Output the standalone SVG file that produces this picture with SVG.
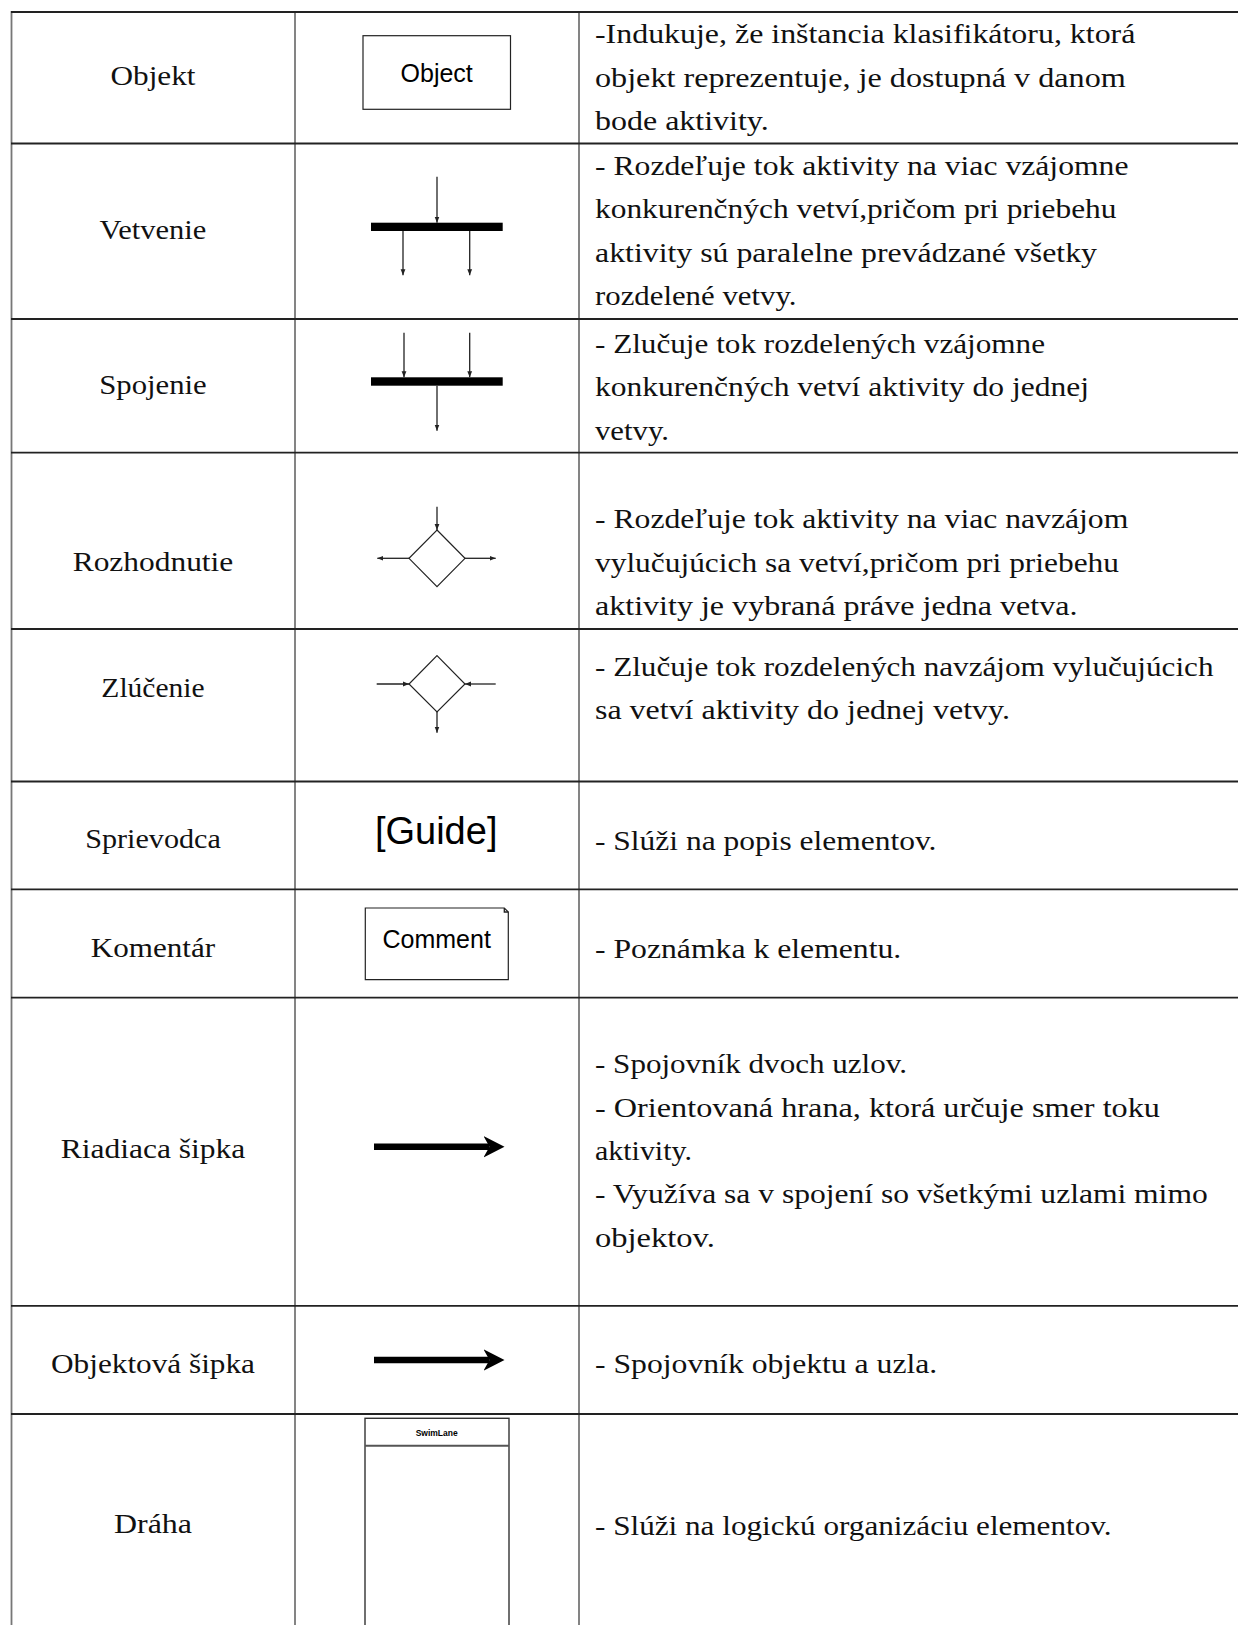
<svg xmlns="http://www.w3.org/2000/svg" width="1238" height="1625" viewBox="0 0 1238 1625">
  <style>
    .hline { stroke: #222; stroke-width: 1.8; }
    .vline { stroke: #777; stroke-width: 1.8; }
    .lbl { font-family: "Liberation Serif", "Times New Roman", serif; font-size: 28px; fill: #111; text-anchor: middle; }
    .desc { font-family: "Liberation Serif", "Times New Roman", serif; font-size: 28px; fill: #111; }
    .sans { font-family: "Liberation Sans", Arial, sans-serif; fill: #000; text-anchor: middle; }
    .thin { stroke: #222; stroke-width: 1.3; fill: none; }
    .flow { stroke: #222; stroke-width: 1.3; fill: none; marker-end: url(#tip); }
    .shape { stroke: #222; stroke-width: 1.2; fill: #fff; }
    .bar { fill: #000; }
    .bigflow { stroke: #000; stroke-width: 6.6; fill: none; marker-end: url(#bigtip); }
  </style>
  <defs>
    <marker id="tip" markerUnits="userSpaceOnUse" viewBox="0 0 6 6" markerWidth="6" markerHeight="6" refX="6" refY="3" orient="auto">
      <path d="M0,0.6 L6,3 L0,5.4 Z" fill="#222"/>
    </marker>
    <marker id="bigtip" markerUnits="userSpaceOnUse" viewBox="0 0 22 22" markerWidth="22" markerHeight="22" refX="6" refY="11" orient="auto">
      <path d="M0,0.3 L21,11 L0,21.7 L6,11 Z" fill="#000"/>
    </marker>
  </defs>

  <rect width="1238" height="1625" fill="#fff"/>

  <!-- table grid -->
  <g id="grid">
    <line class="vline" x1="11.5" y1="11" x2="11.5" y2="1625"/>
    <line class="vline" x1="295" y1="11" x2="295" y2="1625"/>
    <line class="vline" x1="579" y1="11" x2="579" y2="1625"/>
    <line class="hline" x1="11" y1="12" x2="1238" y2="12"/>
    <line class="hline" x1="11" y1="143.5" x2="1238" y2="143.5"/>
    <line class="hline" x1="11" y1="319" x2="1238" y2="319"/>
    <line class="hline" x1="11" y1="452.7" x2="1238" y2="452.7"/>
    <line class="hline" x1="11" y1="629" x2="1238" y2="629"/>
    <line class="hline" x1="11" y1="781.5" x2="1238" y2="781.5"/>
    <line class="hline" x1="11" y1="889.3" x2="1238" y2="889.3"/>
    <line class="hline" x1="11" y1="997.7" x2="1238" y2="997.7"/>
    <line class="hline" x1="11" y1="1305.8" x2="1238" y2="1305.8"/>
    <line class="hline" x1="11" y1="1414" x2="1238" y2="1414"/>
  </g>

  <!-- row: object node -->
  <g id="row-objekt">
    <text class="lbl" x="153" y="85" textLength="85" lengthAdjust="spacingAndGlyphs">Objekt</text>
    <rect class="shape" x="363" y="35.7" width="147.5" height="73.6"/>
    <text class="sans" x="436.7" y="81.5" font-size="25">Object</text>
    <text class="desc" x="595" y="43.3" textLength="540.4" lengthAdjust="spacingAndGlyphs">-Indukuje, že inštancia klasifikátoru, ktorá</text>
    <text class="desc" x="595" y="86.7" textLength="530.8" lengthAdjust="spacingAndGlyphs">objekt reprezentuje, je dostupná v danom</text>
    <text class="desc" x="595" y="130" textLength="173.7" lengthAdjust="spacingAndGlyphs">bode aktivity.</text>
  </g>

  <!-- row: fork -->
  <g id="row-vetvenie">
    <text class="lbl" x="153" y="239.3" textLength="106.8" lengthAdjust="spacingAndGlyphs">Vetvenie</text>
    <rect class="bar" x="371" y="222.7" width="131.7" height="8.3"/>
    <text class="desc" x="595" y="175" textLength="533.5" lengthAdjust="spacingAndGlyphs">- Rozdeľuje tok aktivity na viac vzájomne</text>
    <text class="desc" x="595" y="218.3" textLength="521.5" lengthAdjust="spacingAndGlyphs">konkurenčných vetví,pričom pri priebehu</text>
    <text class="desc" x="595" y="261.7" textLength="502" lengthAdjust="spacingAndGlyphs">aktivity sú paralelne prevádzané všetky</text>
    <text class="desc" x="595" y="305" textLength="201.5" lengthAdjust="spacingAndGlyphs">rozdelené vetvy.</text>
  </g>

  <!-- row: join -->
  <g id="row-spojenie">
    <text class="lbl" x="153" y="393.5" textLength="107.5" lengthAdjust="spacingAndGlyphs">Spojenie</text>
    <rect class="bar" x="371" y="377.3" width="131.7" height="8.4"/>
    <text class="desc" x="595" y="352.7" textLength="450" lengthAdjust="spacingAndGlyphs">- Zlučuje tok rozdelených vzájomne</text>
    <text class="desc" x="595" y="396.2" textLength="494" lengthAdjust="spacingAndGlyphs">konkurenčných vetví aktivity do jednej</text>
    <text class="desc" x="595" y="439.5" textLength="74" lengthAdjust="spacingAndGlyphs">vetvy.</text>
  </g>

  <!-- row: decision -->
  <g id="row-rozhodnutie">
    <text class="lbl" x="153" y="571" textLength="160.6" lengthAdjust="spacingAndGlyphs">Rozhodnutie</text>
    <path class="shape" d="M437,530 L465,558.3 L437,586.7 L409,558.3 Z"/>
    <text class="desc" x="595" y="528.3" textLength="533.3" lengthAdjust="spacingAndGlyphs">- Rozdeľuje tok aktivity na viac navzájom</text>
    <text class="desc" x="595" y="571.7" textLength="524" lengthAdjust="spacingAndGlyphs">vylučujúcich sa vetví,pričom pri priebehu</text>
    <text class="desc" x="595" y="615" textLength="482.5" lengthAdjust="spacingAndGlyphs">aktivity je vybraná práve jedna vetva.</text>
  </g>

  <!-- row: merge -->
  <g id="row-zlucenie">
    <text class="lbl" x="153" y="696.7" textLength="103.3" lengthAdjust="spacingAndGlyphs">Zlúčenie</text>
    <path class="shape" d="M437,655.7 L465,684 L437,712 L409,684 Z"/>
    <text class="desc" x="595" y="676" textLength="618.5" lengthAdjust="spacingAndGlyphs">- Zlučuje tok rozdelených navzájom vylučujúcich</text>
    <text class="desc" x="595" y="719.3" textLength="415" lengthAdjust="spacingAndGlyphs">sa vetví aktivity do jednej vetvy.</text>
  </g>

  <!-- row: guide -->
  <g id="row-sprievodca">
    <text class="lbl" x="153" y="848.3" textLength="135.7" lengthAdjust="spacingAndGlyphs">Sprievodca</text>
    <text class="sans" x="436.2" y="843.5" font-size="38">[Guide]</text>
    <text class="desc" x="595" y="850" textLength="341.5" lengthAdjust="spacingAndGlyphs">- Slúži na popis elementov.</text>
  </g>

  <!-- row: comment -->
  <g id="row-komentar">
    <text class="lbl" x="153" y="956.7" textLength="124.3" lengthAdjust="spacingAndGlyphs">Komentár</text>
    <path class="shape" d="M365.3,908 H504.3 L508.3,912 V979.7 H365.3 Z"/>
    <path class="thin" d="M504.3,908 V912 H508.3"/>
    <text class="sans" x="436.7" y="948.3" font-size="25">Comment</text>
    <text class="desc" x="595" y="957.5" textLength="306.3" lengthAdjust="spacingAndGlyphs">- Poznámka k elementu.</text>
  </g>

  <!-- row: control flow -->
  <g id="row-riadiaca-sipka">
    <text class="lbl" x="153" y="1158" textLength="184.4" lengthAdjust="spacingAndGlyphs">Riadiaca šipka</text>
    <text class="desc" x="595" y="1073.3" textLength="312" lengthAdjust="spacingAndGlyphs">- Spojovník dvoch uzlov.</text>
    <text class="desc" x="595" y="1116.7" textLength="565" lengthAdjust="spacingAndGlyphs">- Orientovaná hrana, ktorá určuje smer toku</text>
    <text class="desc" x="595" y="1160" textLength="97" lengthAdjust="spacingAndGlyphs">aktivity.</text>
    <text class="desc" x="595" y="1203.4" textLength="612.7" lengthAdjust="spacingAndGlyphs">- Využíva sa v spojení so všetkými uzlami mimo</text>
    <text class="desc" x="595" y="1246.8" textLength="119.8" lengthAdjust="spacingAndGlyphs">objektov.</text>
  </g>

  <!-- row: object flow -->
  <g id="row-objektova-sipka">
    <text class="lbl" x="153" y="1372.5" textLength="204" lengthAdjust="spacingAndGlyphs">Objektová šipka</text>
    <text class="desc" x="595" y="1373.3" textLength="342.3" lengthAdjust="spacingAndGlyphs">- Spojovník objektu a uzla.</text>
  </g>

  <!-- row: swimlane -->
  <g id="row-draha">
    <text class="lbl" x="153" y="1533" textLength="78" lengthAdjust="spacingAndGlyphs">Dráha</text>
    <rect x="365" y="1418.3" width="144" height="230" fill="#fff" stroke="#333" stroke-width="1.4"/>
    <line x1="365" y1="1445.7" x2="509" y2="1445.7" stroke="#555" stroke-width="2"/>
    <text class="sans" x="436.7" y="1435.5" font-size="8.5" font-weight="bold">SwimLane</text>
    <text class="desc" x="595" y="1535" textLength="516.6" lengthAdjust="spacingAndGlyphs">- Slúži na logickú organizáciu elementov.</text>
  </g>

  <!-- connectors of the symbols -->
  <g id="connectors">
    <!-- fork -->
    <line class="flow" x1="437" y1="176.7" x2="437" y2="222.7"/>
    <line class="flow" x1="403" y1="231" x2="403" y2="275.3"/>
    <line class="flow" x1="469.7" y1="231" x2="469.7" y2="275.3"/>
    <!-- join -->
    <line class="flow" x1="404" y1="332.7" x2="404" y2="377.3"/>
    <line class="flow" x1="469.7" y1="332.7" x2="469.7" y2="377.3"/>
    <line class="flow" x1="437" y1="385.7" x2="437" y2="430.7"/>
    <!-- decision -->
    <line class="flow" x1="437" y1="506.7" x2="437" y2="530"/>
    <line class="flow" x1="409" y1="558.3" x2="377.3" y2="558.3"/>
    <line class="flow" x1="465" y1="558.3" x2="495.7" y2="558.3"/>
    <!-- merge -->
    <line class="flow" x1="376.7" y1="684" x2="409" y2="684"/>
    <line class="flow" x1="495.7" y1="684" x2="465" y2="684"/>
    <line class="flow" x1="437" y1="712" x2="437" y2="732.7"/>
    <!-- control flow and object flow arrows -->
    <line class="bigflow" x1="374" y1="1146.7" x2="489.5" y2="1146.7"/>
    <line class="bigflow" x1="374" y1="1360" x2="489.5" y2="1360"/>
  </g>
</svg>
